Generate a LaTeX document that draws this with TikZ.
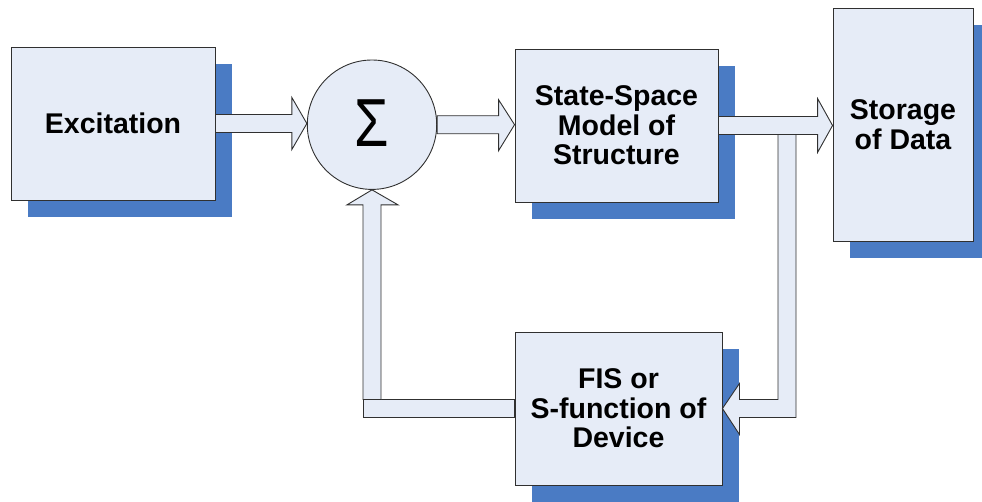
\documentclass[tikz,border=0pt]{standalone}
\usepackage{fontspec}
\setmainfont{Liberation Sans}
\usetikzlibrary{calc,backgrounds}
\definecolor{boxfill}{HTML}{E6ECF7}
\definecolor{shadowblue}{HTML}{4A7BC4}
\definecolor{edge}{HTML}{303030}
\begin{document}
\begin{tikzpicture}[x=1pt,y=-1pt,
  blockbox/.style={draw=edge, line width=0.9pt, fill=boxfill, align=center,
    font=\fontsize{28.5}{29.5}\selectfont\bfseries, inner sep=0pt},
  barrow/.style={draw=edge, line width=0.9pt, fill=boxfill, line join=miter}]
\useasboundingbox (0,0) rectangle (982,501);
\clip (0,0) rectangle (982,501);

\node[blockbox, minimum width=204pt, minimum height=153pt] (exc) at (113,123.5) {Excitation};
\node[circle, draw=edge, line width=0.9pt, fill=boxfill, minimum size=129.4pt, inner sep=0pt]
  (sum) at (372,124.7) {\raisebox{3pt}{\scalebox{0.82}[1]{\fontsize{68}{68}\selectfont Σ}}};
\node[blockbox, minimum width=203pt, minimum height=153pt] (ss) at (616.5,125.5) {State-Space\\Model of\\Structure};
\node[blockbox, minimum width=140pt, minimum height=233pt] (st) at (903,124.5) {Storage\\of Data};
\node[blockbox, minimum width=207pt, minimum height=153pt] (fis) at (618.5,408.5) {FIS or\\S-function of\\Device};

\begin{scope}[on background layer]
  \foreach \n in {exc,ss,st,fis}
    \fill[shadowblue] ($(\n.north west)+(17,17)$) rectangle ($(\n.south east)+(17,17)$);
\end{scope}

\coordinate (branch) at (787,409);
\coordinate (fbk) at (sum.south |- fis.west);

% Excitation -> Sigma
\path[barrow] let \p1=(exc.east), \p2=(sum.west) in
  (\x1,\y1+9pt) -- (\x2-15pt,\y1+9pt) -- (\x2-15pt,\y1+26pt) -- (\x2,\y1)
  -- (\x2-15pt,\y1-26pt) -- (\x2-15pt,\y1-9pt) -- (\x1,\y1-9pt) -- cycle;
% Sigma -> State-Space
\path[barrow] let \p1=(sum.east), \p2=(ss.west) in
  (\x1,\y1+9pt) -- (\x2-16pt,\y1+9pt) -- (\x2-16pt,\y1+25pt) -- (\x2,\y1)
  -- (\x2-16pt,\y1-26pt) -- (\x2-16pt,\y1-9pt) -- (\x1,\y1-9pt) -- cycle;
% branch down to FIS
\path[barrow] let \p1=(branch), \p2=(fis.east), \p3=(ss.east) in
  (\x1-9pt,\y3-9pt) -- (\x1-9pt,\y2+9pt) -- (\x2+17pt,\y2+9pt) -- (\x2+17pt,\y2+25pt)
  -- (\x2,\y2) -- (\x2+17pt,\y2-26pt) -- (\x2+17pt,\y2-9pt) -- (\x1+9pt,\y2-9pt)
  -- (\x1+9pt,\y3-9pt);
% State-Space -> Storage
\path[barrow] let \p1=(ss.east), \p2=(st.west) in
  (\x1,\y1+9pt) -- (\x2-15pt,\y1+9pt) -- (\x2-15pt,\y1+27pt) -- (\x2,\y1)
  -- (\x2-15pt,\y1-27pt) -- (\x2-15pt,\y1-9pt) -- (\x1,\y1-9pt) -- cycle;
% feedback FIS -> Sigma
\path[barrow] let \p1=(fbk), \p2=(fis.west) in
  (\x1-9pt,\y2-9pt) rectangle (\x2,\y2+9pt);
\path[barrow] let \p1=(fbk), \p2=(fis.west), \p3=(sum.south) in
  (\x1-9pt,\y2+9pt) -- (\x1-9pt,\y3-15pt) -- (\x1-25pt,\y3-15pt) -- (\x3,\y3)
  -- (\x1+26pt,\y3-15pt) -- (\x1+9pt,\y3-15pt) -- (\x1+9pt,\y2+9pt) -- cycle;
\end{tikzpicture}
\end{document}
